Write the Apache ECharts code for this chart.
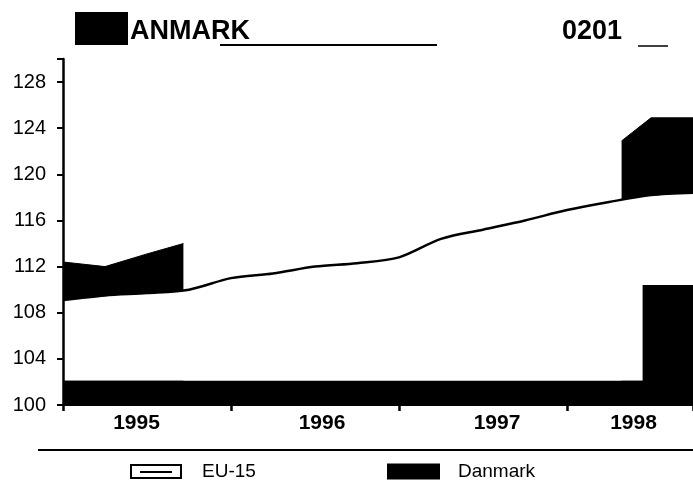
<!DOCTYPE html>
<html>
<head>
<meta charset="utf-8">
<script src="https://cdn.jsdelivr.net/npm/echarts@6/dist/echarts.min.js"></script>
<style>
  html, body { margin: 0; padding: 0; background: #fff; }
  #chart { width: 693px; height: 486px; }
</style>
</head>
<body>
<div id="chart"></div>
<script>
// x = months counted from Jan 1995
const euMonths = [0, 3, 6, 9, 12, 15, 18, 21, 24, 27, 30, 33, 36, 39, 42, 45]
const euValues = [109.1, 109.5, 109.7, 110.0, 111.0, 111.4, 112.0, 112.3, 112.8, 114.4, 115.2, 116.0, 116.9, 117.6, 118.2, 118.4]

// Danmark: the middle of the series is lost in the scan
const dkMonths = [0, 3, 6, 8.6, 20, 39.9, 42, 45]
const dkValues = [112.4, 112.0, 113.1, 114.0, null, 122.9, 124.9, 124.9]

// black blocks still visible at the bottom of the plot
const blockFrom = [[0, 100], [41.4, 100]]
const blockTo = [[45, 102.1], [45, 110.4]]

const years = ['1995', '1996', '1997', '1998']
const yearPos = [5.25, 18.5, 31, 40.75]

const chart = echarts.init(document.getElementById('chart'))

const font = 'Liberation Sans, Arial, sans-serif'
const euIcon = 'path://M0,0H52V15H0Z M2,2V13H50V2Z M10,7H42V9H10Z'

const option = {
  animation: false,
  backgroundColor: '#fff',
  textStyle: { fontFamily: font, color: '#000' },
  grid: { left: 63, right: 0, top: 59, bottom: 81, outerBoundsMode: 'none' },
  graphic: [
    { type: 'rect', shape: { x: 75, y: 12, width: 53, height: 33 }, style: { fill: '#000' } },
    { type: 'text', x: 130, y: 18, style: { text: 'ANMARK', font: 'bold 27px ' + font, fill: '#000' } },
    { type: 'line', shape: { x1: 220, y1: 45, x2: 437, y2: 45 }, style: { stroke: '#000', lineWidth: 2 } },
    { type: 'text', x: 562, y: 18, style: { text: '0201', font: 'bold 27px ' + font, fill: '#000' } },
    { type: 'line', shape: { x1: 638, y1: 46, x2: 668, y2: 46 }, style: { stroke: '#000', lineWidth: 1.5 } },
    { type: 'line', shape: { x1: 38, y1: 450, x2: 693, y2: 450 }, style: { stroke: '#000', lineWidth: 2 } }
  ],
  legend: [
    {
      left: 130, top: 462, padding: 0, selectedMode: false,
      itemWidth: 52, itemHeight: 15,
      data: [{ name: 'EU-15', icon: euIcon, itemStyle: { color: '#000', borderWidth: 0 } }],
      textStyle: { fontSize: 19, color: '#000', fontFamily: font, padding: [0, 0, 0, 15] }
    },
    {
      left: 387, top: 462, padding: 0, selectedMode: false,
      itemWidth: 53, itemHeight: 16,
      data: [{ name: 'Danmark', icon: 'rect', itemStyle: { color: '#000' } }],
      textStyle: { fontSize: 19, color: '#000', fontFamily: font, padding: [0, 0, 0, 13] }
    }
  ],
  xAxis: [
    {
      type: 'value', min: 0, max: 45, interval: 12, position: 'bottom', z: 10,
      axisLine: { lineStyle: { color: '#000', width: 2 } },
      axisTick: { show: true, length: 6, lineStyle: { color: '#000', width: 2.5 } },
      axisLabel: { show: false },
      splitLine: { show: false }
    },
    {
      type: 'value', min: 0, max: 45, interval: 0.25, position: 'bottom',
      axisLine: { show: false },
      axisTick: { show: false },
      splitLine: { show: false },
      axisLabel: {
        margin: 8, fontSize: 21, fontWeight: 'bold', color: '#000', fontFamily: font,
        formatter: v => {
          const i = yearPos.findIndex(p => Math.abs(p - v) < 0.01)
          return i >= 0 ? years[i] : ''
        }
      }
    }
  ],
  yAxis: {
    type: 'value', min: 100, max: 130, interval: 4, z: 10,
    axisLine: { show: true, lineStyle: { color: '#000', width: 2.5 } },
    axisTick: { show: true, length: 6, lineStyle: { color: '#000', width: 2 } },
    axisLabel: {
      margin: 17, fontSize: 20, color: '#000', fontFamily: font,
      formatter: v => (v % 4 === 0 ? v : '')
    },
    splitLine: { show: false }
  },
  series: [
    {
      name: 'Danmark', type: 'line', z: 2,
      data: dkMonths.map((m, i) => [m, dkValues[i] === null ? '-' : dkValues[i]]),
      symbol: 'none', connectNulls: false,
      itemStyle: { color: '#000' },
      lineStyle: { color: '#000', width: 1 },
      areaStyle: { color: '#000', opacity: 1 }
    },
    {
      name: 'EU-15', type: 'line', z: 3,
      data: euMonths.map((m, i) => [m, euValues[i]]),
      smooth: 0.3, symbol: 'none',
      itemStyle: { color: '#000' },
      lineStyle: { color: '#000', width: 2.5 },
      areaStyle: { color: '#fff', opacity: 1, origin: 102.1 }
    },
    {
      name: 'blocks', type: 'line', z: 4, data: [],
      markArea: {
        silent: true, z: 5,
        itemStyle: { color: '#000', opacity: 1 },
        data: blockFrom.map((f, i) => [
          { xAxis: f[0], yAxis: f[1] },
          { xAxis: blockTo[i][0], yAxis: blockTo[i][1] }
        ])
      }
    }
  ]
}

chart.setOption(option)
</script>
</body>
</html>
